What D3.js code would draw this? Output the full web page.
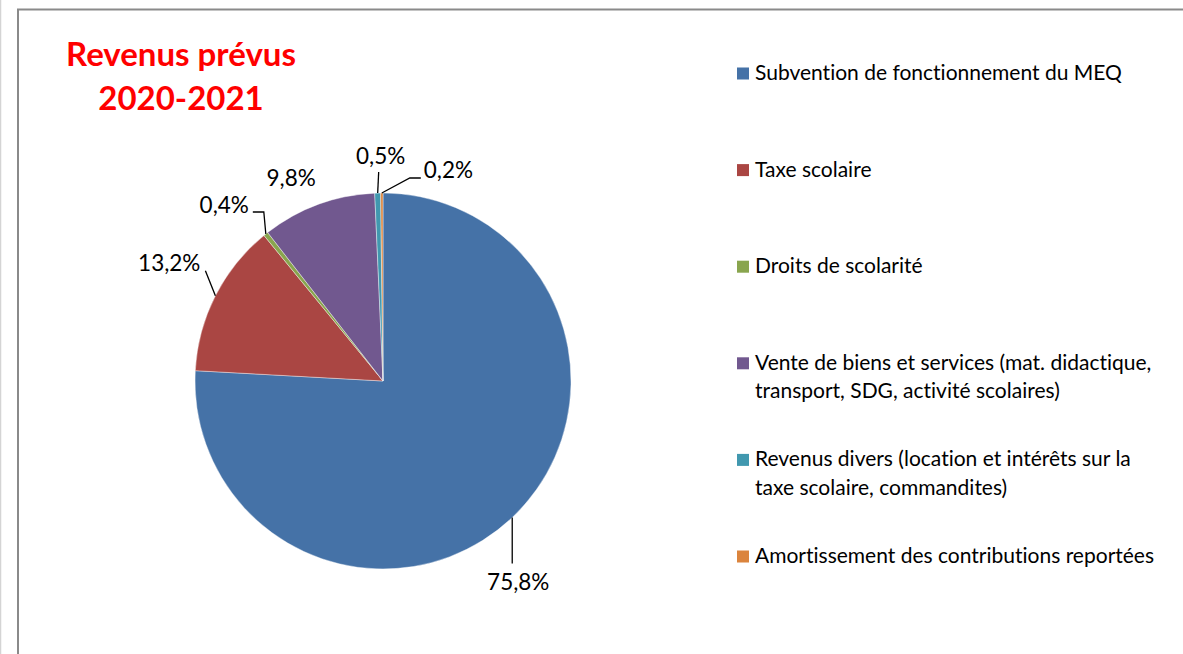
<!DOCTYPE html>
<html>
<head>
<meta charset="utf-8">
<script src="https://cdn.jsdelivr.net/npm/d3@7"></script>
<style>
  html, body { margin: 0; padding: 0; background: #fff; }
  svg { display: block; font-family: Lato, "Open Sans", sans-serif; font-variant-ligatures: none; }
</style>
</head>
<body>
<svg id="chart" width="1183" height="654"></svg>
<script>
// data
const categories = [
    "Subvention de fonctionnement du MEQ",
    "Taxe scolaire",
    "Droits de scolarité",
    "Vente de biens et services (mat. didactique, transport, SDG, activité scolaires)",
    "Revenus divers (location et intérêts sur la taxe scolaire, commandites)",
    "Amortissement des contributions reportées"
];
const shares = [75.8, 13.2, 0.4, 9.8, 0.5, 0.2];
const colors = ["#4572A7", "#AA4643", "#89A54E", "#71588F", "#4198AF", "#DB843D"];
const titleLines = ["Revenus prévus", "2020-2021"];

// label placement relative to the slice edge (layout only)
// leader: list of [dx,dy] points after the edge point, text: [dx,dy,anchor]
const labelLayout = [
    {leader: [[0, 46]], text: [6, 72, "middle"]},
    {leader: [[-10, -25]], text: [-15, -25, "end"]},
    {leader: [[-2, -22], [-13, -22]], text: [-17, -21, "end"]},
    {leader: [], text: [-27, -19, "middle"]},
    {leader: [[1, -21]], text: [3, -29, "middle"]},
    {leader: [[28, -15], [39, -15]], text: [42, -15, "start"]}
];

const svg = d3.select("#chart");
const cx = 383, cy = 381, r = 188;

// page edge + chart frame
svg.append("line")
    .attr("x1", 0.5).attr("x2", 0.5).attr("y1", 0).attr("y2", 654)
    .attr("stroke", "#d4d4d4").attr("stroke-width", 1.5);
svg.append("rect")
    .attr("x", 18).attr("y", 9.5).attr("width", 1200).attr("height", 700)
    .attr("fill", "#fff").attr("stroke", "#8a8a8a").attr("stroke-width", 2);

// title
svg.append("g").selectAll("text")
    .data(titleLines)
    .enter()
    .append("text")
    .attr("x", 181)
    .attr("y", (d, i) => 66 + i * 44)
    .attr("text-anchor", "middle")
    .style("font-weight", "bold")
    .style("font-size", "33px")
    .style("fill", "#ff0000")
    .text(d => d);

// pie
let records = categories.map((c, i) => ({name: c, value: shares[i], color: colors[i]}));
let pie = d3.pie().sort(null).value(d => d.value);
let arcs = pie(records);
let arc = d3.arc().innerRadius(0).outerRadius(r);

let g = svg.append("g").attr("transform", `translate(${cx},${cy})`);
g.selectAll("path")
    .data(arcs)
    .enter()
    .append("path")
    .attr("d", arc)
    .style("fill", d => d.data.color)
    .style("stroke", "#fff")
    .style("stroke-width", 0.4);

// data labels
const edge = function(d){
    let a = (d.startAngle + d.endAngle) / 2;
    return [r * Math.sin(a), -r * Math.cos(a)];
};
arcs.forEach(function(d, i){
    let p = edge(d), lay = labelLayout[i];
    if(lay.leader.length){
        let pts = [p].concat(lay.leader.map(o => [p[0] + o[0], p[1] + o[1]]));
        g.append("path")
            .attr("d", d3.line()(pts))
            .attr("fill", "none")
            .attr("stroke", "#000")
            .attr("stroke-width", 1.3);
    }
    g.append("text")
        .attr("x", p[0] + lay.text[0])
        .attr("y", p[1] + lay.text[1])
        .attr("text-anchor", lay.text[2])
        .style("font-size", "22.5px")
        .style("fill", "#000")
        .text(d3.format(".1f")(d.data.value).replace(".", ",") + "%");
});

// legend
let rowY = d3.scaleLinear().domain([0, categories.length - 1]).range([80, 563]);
let legend = svg.append("g");
records.forEach(function(d, i){
    let y = rowY(i);
    legend.append("rect")
        .attr("x", 737).attr("y", y - 12.5)
        .attr("width", 12).attr("height", 12)
        .style("fill", d.color);
    let t = legend.append("text")
        .attr("x", 755).attr("y", y)
        .style("font-size", "21px")
        .style("fill", "#000");
    // wrap to the legend width
    let words = d.name.split(" "), line = [], ln = 0;
    let ts = t.append("tspan").attr("x", 755).attr("y", y);
    words.forEach(function(w){
        line.push(w);
        ts.text(line.join(" "));
        if(ts.node().getComputedTextLength() > 412 && line.length > 1){
            line.pop();
            ts.text(line.join(" "));
            line = [w];
            ln++;
            ts = t.append("tspan").attr("x", 755).attr("y", y + ln * 28.5).text(w);
        }
    });
});
</script>
</body>
</html>
